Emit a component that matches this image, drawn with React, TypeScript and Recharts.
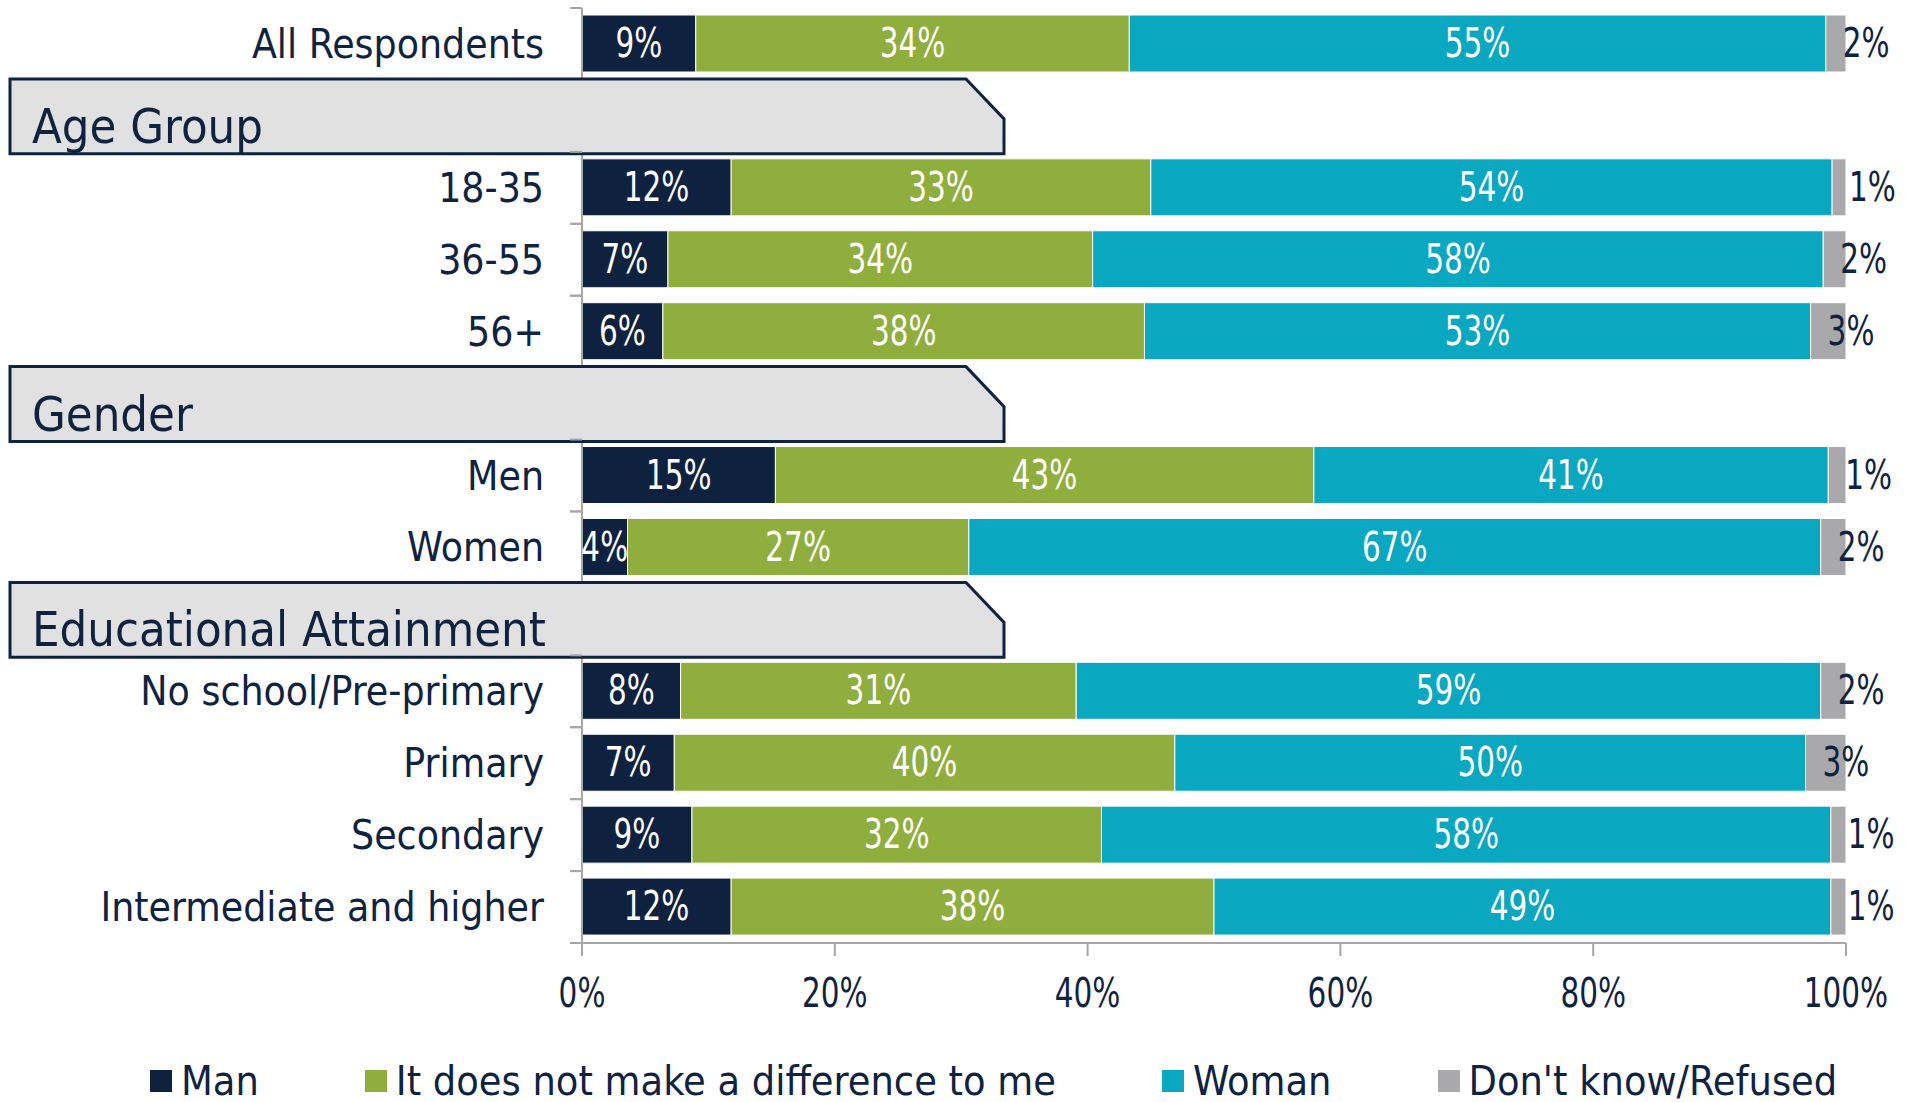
import { BarChart, Bar, XAxis, YAxis, LabelList, Legend } from "recharts";

const categories = [
  "All Respondents",
  "Age Group",
  "18-35",
  "36-55",
  "56+",
  "Gender",
  "Men",
  "Women",
  "Educational Attainment",
  "No school/Pre-primary",
  "Primary",
  "Secondary",
  "Intermediate and higher",
];
const headers = ["Age Group", "Gender", "Educational Attainment"];

const man = [9.0, null, 11.8, 6.8, 6.4, null, 15.3, 3.6, null, 7.8, 7.3, 8.7, 11.8];
const noDifference = [34.3, null, 33.2, 33.6, 38.1, null, 42.6, 27.0, null, 31.3, 39.6, 32.4, 38.2];
const woman = [55.1, null, 53.9, 57.8, 52.7, null, 40.7, 67.4, null, 58.9, 49.9, 57.7, 48.8];
const dontKnow = [1.6, null, 1.1, 1.8, 2.8, null, 1.4, 2.0, null, 2.0, 3.2, 1.2, 1.2];

const xTicks = [0, 20, 40, 60, 80, 100];

const series = [
  { key: "man", name: "Man", color: "#0e2240", values: man },
  { key: "noDiff", name: "It does not make a difference to me", color: "#8fae3e", values: noDifference },
  { key: "woman", name: "Woman", color: "#09a7c0", values: woman },
  { key: "dk", name: "Don't know/Refused", color: "#a9a9ab", values: dontKnow },
];

const rows = categories.map((label, i) => {
  const row: Record<string, any> = { label };
  series.forEach((s) => (row[s.key] = s.values[i]));
  return row;
});

const NAVY = "#0f2341";
const AXIS = "#a6a6a6";
const TEXT_FONT = "'DejaVu Sans Condensed', 'DejaVu Sans', sans-serif";

const PLOT_TOP = 8;
const PLOT_BOTTOM = 943;
const HALF_BAND = (PLOT_BOTTOM - PLOT_TOP) / categories.length / 2;

// numbers in the original use a narrow face, so squeeze them a bit
const NumText = (p: { x: number; y: number; anchor: string; fill: string; children: any }) => (
  <text
    transform={`translate(${p.x},${p.y}) scale(0.82,1)`}
    textAnchor={p.anchor as any}
    dominantBaseline="central"
    fontFamily={TEXT_FONT}
    fontSize={40}
    fill={p.fill}
  >
    {p.children}
  </text>
);

const CategoryTick = (props: any) => {
  const { y, payload } = props;
  const label = payload.value as string;
  if (headers.includes(label)) {
    const top = y - HALF_BAND - 1;
    const bottom = y + HALF_BAND + 2;
    const pts = `10,${top} 966,${top} 1004,${top + 40} 1004,${bottom} 10,${bottom}`;
    return (
      <g>
        <polygon points={pts} fill="#e1e1e1" stroke={NAVY} strokeWidth={3} />
        <text x={32} y={bottom - 11} fontFamily={TEXT_FONT} fontSize={48.5} fill={NAVY}>
          {label}
        </text>
      </g>
    );
  }
  return (
    <g>
      <line x1={570} x2={582} y1={y - HALF_BAND} y2={y - HALF_BAND} stroke={AXIS} strokeWidth={2} />
      <line x1={570} x2={582} y1={y + HALF_BAND} y2={y + HALF_BAND} stroke={AXIS} strokeWidth={2} />
      <text
        x={544}
        y={y}
        textAnchor="end"
        dominantBaseline="central"
        fontFamily={TEXT_FONT}
        fontSize={40.5}
        fill={NAVY}
      >
        {label}
      </text>
    </g>
  );
};

const PercentTick = (props: any) => {
  const { x, y, payload } = props;
  return (
    <NumText x={x} y={y + 15} anchor="middle" fill={NAVY}>
      {payload.value}%
    </NumText>
  );
};

const InsideLabel = (props: any) => {
  const { x, y, width, height, value } = props;
  if (value == null || !value) return null;
  return (
    <NumText x={x + width / 2} y={y + height / 2} anchor="middle" fill="#ffffff">
      {Math.round(value)}%
    </NumText>
  );
};

const OutsideLabel = (props: any) => {
  const { x, y, height, value } = props;
  if (value == null || !value) return null;
  return (
    <NumText x={x + 17} y={y + height / 2} anchor="start" fill={NAVY}>
      {Math.round(value)}%
    </NumText>
  );
};

const LegendContent = () => (
  <div
    style={{
      display: "flex",
      alignItems: "center",
      paddingLeft: 150,
      fontFamily: TEXT_FONT,
      fontSize: 41,
      color: NAVY,
      lineHeight: "38px",
      whiteSpace: "nowrap",
    }}
  >
    {series.map((s) => (
      <div key={s.key} style={{ display: "flex", alignItems: "center", marginRight: 106 }}>
        <span style={{ width: 22, height: 22, background: s.color, marginRight: 9, display: "inline-block" }} />
        <span>{s.name}</span>
      </div>
    ))}
  </div>
);

export default function App() {
  return (
    <div style={{ position: "absolute", left: 0, top: 0 }}>
      <BarChart
        width={1917}
        height={1102}
        data={rows}
        layout="vertical"
        margin={{ top: PLOT_TOP, right: 71, left: 0, bottom: 0 }}
        barSize={57}
      >
        <XAxis
          type="number"
          domain={[0, 100]}
          ticks={xTicks}
          height={1102 - PLOT_BOTTOM}
          axisLine={{ stroke: AXIS, strokeWidth: 2 }}
          tickLine={{ stroke: AXIS, strokeWidth: 2 }}
          tickSize={13}
          tickMargin={22}
          tick={<PercentTick />}
          allowDataOverflow
        />
        <YAxis
          type="category"
          dataKey="label"
          width={582}
          interval={0}
          tickLine={false}
          axisLine={{ stroke: AXIS, strokeWidth: 2 }}
          tick={<CategoryTick />}
        />
        <Legend
          layout="horizontal"
          verticalAlign="middle"
          align="center"
          wrapperStyle={{ top: 1062, left: 0, width: 1917, height: 38 }}
          content={<LegendContent />}
        />
        {series.map((s, i) => (
          <Bar
            key={s.key}
            dataKey={s.key}
            name={s.name}
            stackId="a"
            fill={s.color}
            stroke="#ffffff"
            strokeWidth={1}
            isAnimationActive={false}
          >
            <LabelList dataKey={s.key} content={i === 3 ? <OutsideLabel /> : <InsideLabel />} />
          </Bar>
        ))}
      </BarChart>
    </div>
  );
}
